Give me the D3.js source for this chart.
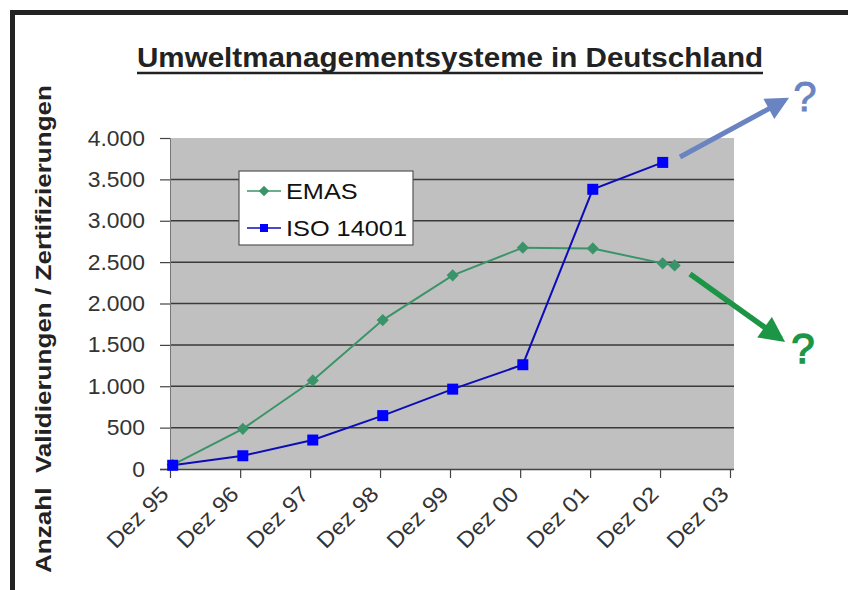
<!DOCTYPE html>
<html>
<head>
<meta charset="utf-8">
<script src="https://cdn.jsdelivr.net/npm/d3@7"></script>
<style>
  body { margin: 0; background: #fff; }
  svg { display: block; font-family: "Liberation Sans", Arial, sans-serif; }
</style>
</head>
<body>
<svg id="chart"></svg>
<script>
// data
var emasDates = ["1995-12-15", "1996-12-15", "1997-12-15", "1998-12-15", "1999-12-15", "2000-12-15", "2001-12-15", "2002-12-15", "2003-02-15"];
var emasValues = [50, 485, 1070, 1800, 2340, 2675, 2665, 2485, 2460];
var isoDates = ["1995-12-15", "1996-12-15", "1997-12-15", "1998-12-15", "1999-12-15", "2000-12-15", "2001-12-15", "2002-12-15"];
var isoValues = [45, 160, 350, 645, 965, 1260, 3380, 3705];
var tickDates = ["1995-12-01", "1996-12-01", "1997-12-01", "1998-12-01", "1999-12-01", "2000-12-01", "2001-12-01", "2002-12-01", "2003-12-01"];
var tickLabels = ["Dez 95", "Dez 96", "Dez 97", "Dez 98", "Dez 99", "Dez 00", "Dez 01", "Dez 02", "Dez 03"];
var yTicks = [0, 500, 1000, 1500, 2000, 2500, 3000, 3500, 4000];
var seriesNames = ["EMAS", "ISO 14001"];

var width = 848, height = 590;
var plot = {left: 170, right: 734, top: 138, bottom: 469};

var parse = d3.timeParse("%Y-%m-%d");
var de = d3.formatLocale({decimal: ",", thousands: ".", grouping: [3], currency: ["", " €"]});
var fmt = de.format(",d");

// widen text a little, the scanned chart is drawn with wide glyphs
function stretch(sel, k) {
    sel.each(function() {
        var l = this.getComputedTextLength();
        d3.select(this).attr("textLength", l * k).attr("lengthAdjust", "spacingAndGlyphs");
    });
}

var svg = d3.select("#chart")
    .attr("width", width)
    .attr("height", height);

var x = d3.scaleTime()
    .domain([parse(tickDates[0]), parse(tickDates[tickDates.length - 1])])
    .range([plot.left, 730]);

var y = d3.scaleLinear()
    .domain([0, 4000])
    .range([plot.bottom, plot.top]);

// frame (top + left only, picture is cropped)
svg.append("path")
    .attr("d", "M12.5,590 V12.5 H848")
    .attr("fill", "none")
    .attr("stroke", "#222")
    .attr("stroke-width", 5);

// plot background
svg.append("rect")
    .attr("x", plot.left)
    .attr("y", plot.top)
    .attr("width", plot.right - plot.left)
    .attr("height", plot.bottom - plot.top)
    .attr("fill", "#c0c0c0");

// grid
svg.append("g").selectAll("line")
    .data(yTicks.filter(function(d) { return d > 0 && d < 4000; }))
    .enter().append("line")
    .attr("x1", plot.left).attr("x2", plot.right)
    .attr("y1", function(d) { return y(d); })
    .attr("y2", function(d) { return y(d); })
    .attr("stroke", "#3a3a3a")
    .attr("stroke-width", 1.5);

// y axis
var yAxis = svg.append("g")
    .attr("transform", "translate(" + plot.left + ",0)")
    .call(d3.axisLeft(y).tickValues(yTicks).tickFormat(fmt).tickSize(10).tickPadding(15));
yAxis.select(".domain").attr("stroke", "#777").attr("stroke-width", 1);
yAxis.selectAll(".tick line").attr("stroke", "#444").attr("stroke-width", 1.2);
yAxis.selectAll("text")
    .attr("font-size", 22)
    .attr("fill", "#333")
    .style("font-family", "Liberation Sans, Arial, sans-serif")
    .call(stretch, 1.04);

// x axis
var xAxis = svg.append("g")
    .attr("transform", "translate(0," + plot.bottom + ")")
    .call(d3.axisBottom(x).tickValues(tickDates.map(parse)).tickSize(9)
        .tickFormat(function(d, i) { return tickLabels[i]; }));
xAxis.select(".domain").attr("stroke", "#444").attr("stroke-width", 1.5)
    .attr("d", "M" + (plot.left - 10) + ",0.5H" + plot.right);
xAxis.selectAll(".tick line").attr("stroke", "#444").attr("stroke-width", 1.2);
xAxis.selectAll("text")
    .attr("font-size", 22)
    .attr("fill", "#333")
    .attr("text-anchor", "end")
    .attr("dy", "0.35em")
    .attr("transform", "translate(-6,21) rotate(-45)")
    .attr("y", 0)
    .style("font-family", "Liberation Sans, Arial, sans-serif")
    .call(stretch, 1.1);

// lines
var emas = emasDates.map(function(d, i) { return {date: parse(d), value: emasValues[i]}; });
var iso = isoDates.map(function(d, i) { return {date: parse(d), value: isoValues[i]}; });

var line = d3.line()
    .x(function(d) { return x(d.date); })
    .y(function(d) { return y(d.value); });

var emasColor = "#3b9469";
var isoColor = "#0000ff";
var isoLine = "#0c0cb8";

svg.append("path")
    .datum(emas)
    .attr("d", line)
    .attr("fill", "none")
    .attr("stroke", emasColor)
    .attr("stroke-width", 2);

svg.append("path")
    .datum(iso)
    .attr("d", line)
    .attr("fill", "none")
    .attr("stroke", isoLine)
    .attr("stroke-width", 2);

var diamond = d3.symbol().type(d3.symbolDiamond2).size(95);
svg.append("g").selectAll("path")
    .data(emas)
    .enter().append("path")
    .attr("d", diamond)
    .attr("transform", function(d) { return "translate(" + x(d.date) + "," + y(d.value) + ")"; })
    .attr("fill", emasColor);

svg.append("g").selectAll("rect")
    .data(iso)
    .enter().append("rect")
    .attr("x", function(d) { return x(d.date) - 5.5; })
    .attr("y", function(d) { return y(d.value) - 5.5; })
    .attr("width", 11)
    .attr("height", 11)
    .attr("fill", isoColor);

// legend
var legend = svg.append("g").attr("transform", "translate(239,171)");
legend.append("rect")
    .attr("width", 174).attr("height", 74)
    .attr("fill", "#fff")
    .attr("stroke", "#555")
    .attr("stroke-width", 1.2);
var leg = legend.selectAll("g.item")
    .data(seriesNames)
    .enter().append("g")
    .attr("class", "item")
    .attr("transform", function(d, i) { return "translate(0," + (20 + i * 37) + ")"; });
leg.append("line")
    .attr("x1", 8).attr("x2", 42)
    .attr("stroke", function(d, i) { return i ? isoLine : emasColor; })
    .attr("stroke-width", 1.5);
leg.append("path")
    .attr("d", function(d, i) {
        return i ? d3.symbol().type(d3.symbolSquare).size(64)() : d3.symbol().type(d3.symbolDiamond2).size(70)();
    })
    .attr("transform", "translate(25,0)")
    .attr("fill", function(d, i) { return i ? isoColor : emasColor; });
leg.append("text")
    .attr("x", 47)
    .attr("dy", "0.36em")
    .attr("font-size", 22)
    .attr("fill", "#111")
    .text(function(d) { return d; })
    .call(stretch, 1.15);

// title
svg.append("text")
    .attr("x", 137)
    .attr("y", 67)
    .attr("font-size", 28)
    .attr("font-weight", "bold")
    .attr("fill", "#222")
    .attr("textLength", 626)
    .attr("lengthAdjust", "spacingAndGlyphs")
    .text("Umweltmanagementsysteme in Deutschland");
svg.append("line")
    .attr("x1", 137).attr("x2", 763)
    .attr("y1", 73).attr("y2", 73)
    .attr("stroke", "#222")
    .attr("stroke-width", 2.5);

// y title
svg.append("text")
    .attr("transform", "translate(51,329) rotate(-90)")
    .attr("text-anchor", "middle")
    .attr("font-size", 22)
    .attr("font-weight", "bold")
    .attr("fill", "#222")
    .attr("textLength", 488)
    .attr("lengthAdjust", "spacingAndGlyphs")
    .attr("xml:space", "preserve")
    .style("white-space", "pre")
    .text("Anzahl  Validierungen / Zertifizierungen");

// trend arrows
var defs = svg.append("defs");
function marker(id, color) {
    defs.append("marker")
        .attr("id", id)
        .attr("viewBox", "0 0 10 10")
        .attr("refX", 8).attr("refY", 5)
        .attr("markerWidth", 5).attr("markerHeight", 4.6)
        .attr("markerUnits", "strokeWidth")
        .attr("orient", "auto")
        .append("path")
        .attr("d", "M0,0 L10,5 L0,10 Z")
        .attr("fill", color);
}
var blueArrow = "#6a84c2", greenArrow = "#1c9646";
marker("ah-blue", blueArrow);
marker("ah-green", greenArrow);

svg.append("line")
    .attr("x1", 680).attr("y1", 157).attr("x2", 785).attr("y2", 100)
    .attr("stroke", blueArrow).attr("stroke-width", 5)
    .attr("marker-end", "url(#ah-blue)");
svg.append("line")
    .attr("x1", 690).attr("y1", 274).attr("x2", 781).attr("y2", 339)
    .attr("stroke", greenArrow).attr("stroke-width", 5.5)
    .attr("marker-end", "url(#ah-green)");

svg.append("text")
    .attr("x", 805).attr("y", 111)
    .attr("text-anchor", "middle")
    .attr("font-size", 42)
    .attr("fill", blueArrow)
    .attr("stroke", blueArrow)
    .attr("stroke-width", 0.8)
    .text("?");
svg.append("text")
    .attr("x", 803).attr("y", 363)
    .attr("text-anchor", "middle")
    .attr("font-size", 42)
    .attr("fill", greenArrow)
    .attr("stroke", greenArrow)
    .attr("stroke-width", 1.4)
    .text("?");
</script>
</body>
</html>
